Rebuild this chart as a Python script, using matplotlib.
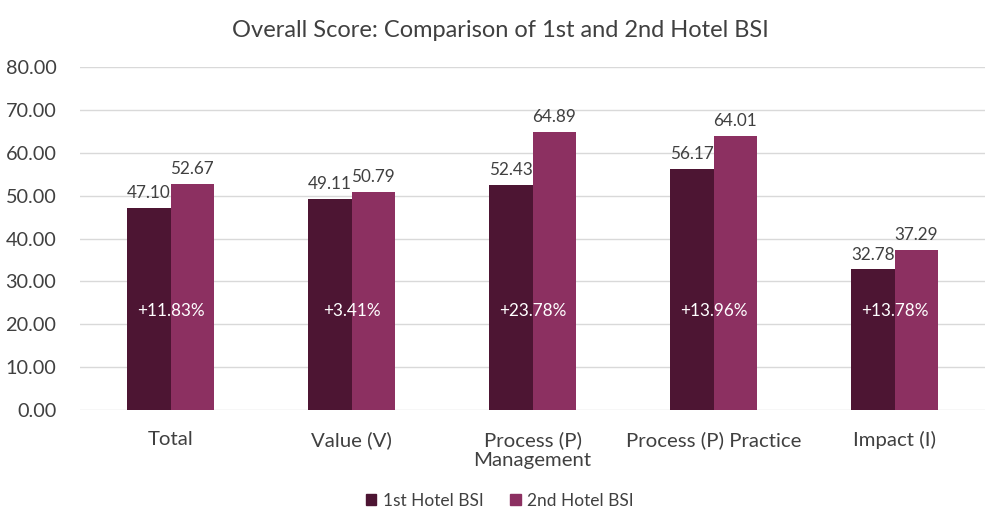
import numpy as np
import matplotlib.pyplot as plt
from matplotlib.patches import Patch

plt.rcParams['font.family'] = ['Lato', 'DejaVu Sans']

categories = ['Total', 'Value (V)', 'Process (P)\nManagement', 'Process (P) Practice', 'Impact (I)']
first_bsi = [47.10, 49.11, 52.43, 56.17, 32.78]
second_bsi = [52.67, 50.79, 64.89, 64.01, 37.29]
change_labels = ['+11.83%', '+3.41%', '+23.78%', '+13.96%', '+13.78%']

DARK = '#4D1533'
LIGHT = '#8C3061'
TXT = '#404040'


def main():
    fig = plt.figure(figsize=(10, 5.3), dpi=100)
    ax = fig.add_axes([0.08, 0.2264, 0.905, 0.6472])

    x = np.arange(len(categories))
    w = 0.238
    b1 = ax.bar(x - w / 2, first_bsi, w, color=DARK, label='1st Hotel BSI', zorder=3)
    b2 = ax.bar(x + w / 2, second_bsi, w, color=LIGHT, label='2nd Hotel BSI', zorder=3)

    # data labels on top of bars
    for rects, vals in ((b1, first_bsi), (b2, second_bsi)):
        for r, v in zip(rects, vals):
            ax.annotate(f'{v:.2f}', (r.get_x() + r.get_width() / 2, v),
                        xytext=(0, 5), textcoords='offset points',
                        ha='center', va='bottom', fontsize=12.3, color=TXT, zorder=4)

    # growth labels inside the bar pair
    for xi, lab in zip(x, change_labels):
        ax.text(xi, 23, lab, ha='center', va='center', fontsize=12.3, color='white', zorder=4)

    ax.set_xlim(-0.5, len(categories) - 0.5)
    ax.set_ylim(0, 80)
    ax.set_yticks(np.arange(0, 81, 10))
    ax.yaxis.set_major_formatter(plt.FuncFormatter(lambda v, p: f'{v:.2f}'))
    ax.set_xticks(x)
    ax.set_xticklabels(categories, fontsize=14.7, color=TXT, linespacing=1.25)
    ax.tick_params(axis='y', labelsize=14.3, labelcolor=TXT, length=0, pad=17)
    ax.tick_params(axis='x', length=0, pad=15)
    ax.grid(axis='y', color='#d9d9d9', linewidth=1, zorder=0)
    for s in ax.spines.values():
        s.set_visible(False)

    fig.text(0.5, 0.943, 'Overall Score: Comparison of 1st and 2nd Hotel BSI',
             ha='center', va='center', fontsize=17, color=TXT)

    handles = [Patch(color=DARK), Patch(color=LIGHT)]
    fig.legend(handles, ['1st Hotel BSI', '2nd Hotel BSI'], loc='center',
               bbox_to_anchor=(0.5, 0.055), ncol=2, frameon=False,
               fontsize=12.5, labelcolor=TXT, handlelength=0.6, handleheight=0.6,
               handletextpad=0.4, columnspacing=1.5)

    fig.savefig('out.png', dpi=100)


if __name__ == "__main__":
    main()
